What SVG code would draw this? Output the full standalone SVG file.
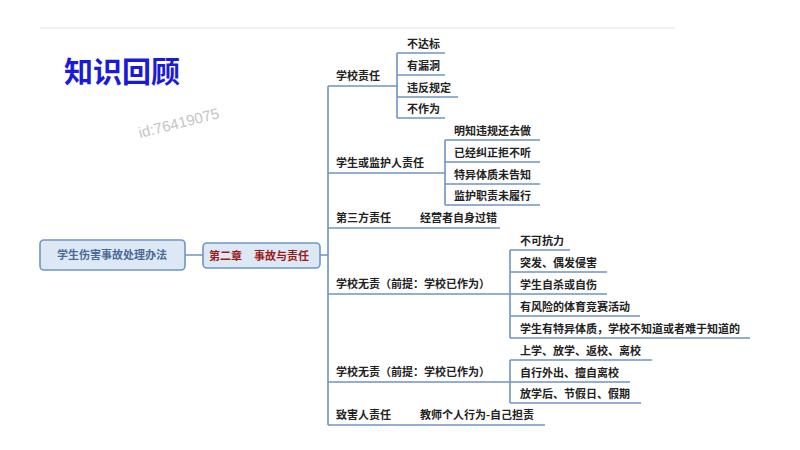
<svg xmlns="http://www.w3.org/2000/svg" width="800" height="450" viewBox="0 0 800 450">
<style>
text{font-family:"Noto Sans CJK SC","Noto Sans",sans-serif;font-size:11px;font-weight:bold;fill:#222}
.l{stroke:#6f95c4;stroke-width:1.6;fill:none}
.box{fill:#dde8f5;stroke:#6f95c4;stroke-width:1.6}
</style>
<rect width="800" height="450" fill="#fff"/>
<line x1="40" y1="28" x2="675" y2="28" stroke="#e4e4e4"/>
<text x="64" y="83" style="font-size:29px;fill:#1a1ad8;font-weight:bold">知识回顾</text>
<text x="140" y="138" transform="rotate(-14 140 138)" style="font-family:'Liberation Sans',sans-serif;font-size:15px;font-weight:normal;fill:#c4c4c4">id:76419075</text>
<g id="connectors">
<path class="l" d="M185 255H203M320 255H328M328 86V425"/>
<path class="l" d="M328 86H397M397 53V118M397 53H445M397 75H445M397 97H458M397 118H445"/>
<path class="l" d="M328 173H445M445 140V205M445 140H540M445 162H540M445 184H540M445 205H540"/>
<path class="l" d="M328 228H500"/>
<path class="l" d="M328 294H510M510 250V338M510 250H570M510 272H607M510 294H607M510 316H640M510 338H750"/>
<path class="l" d="M328 382H510M510 360V403M510 360H652M510 382H630M510 403H641"/>
<path class="l" d="M328 425H545"/>
</g>
<g id="root"><rect class="box" x="40" y="240" width="145" height="30" rx="4"/><text x="112" y="259" text-anchor="middle" style="fill:#4a6a99">学生伤害事故处理办法</text></g>
<g id="center"><rect class="box" x="203" y="243" width="117" height="25" rx="4"/><text x="209" y="260" style="fill:#9a1a1a">第二章</text><text x="254" y="260" style="fill:#9a1a1a">事故与责任</text></g>
<g id="n1"><text x="336" y="80">学校责任</text><text x="407" y="48">不达标</text><text x="407" y="70">有漏洞</text><text x="407" y="92">违反规定</text><text x="407" y="113">不作为</text></g>
<g id="n2"><text x="336" y="167">学生或监护人责任</text><text x="454" y="135">明知违规还去做</text><text x="454" y="157">已经纠正拒不听</text><text x="454" y="179">特异体质未告知</text><text x="454" y="200">监护职责未履行</text></g>
<g id="n3"><text x="336" y="222">第三方责任</text><text x="420" y="222">经营者自身过错</text></g>
<g id="n4"><text x="336" y="288">学校无责（前提：学校已作为）</text><text x="520" y="245">不可抗力</text><text x="520" y="267">突发、偶发侵害</text><text x="520" y="289">学生自杀或自伤</text><text x="520" y="311">有风险的体育竞赛活动</text><text x="520" y="333">学生有特异体质，学校不知道或者难于知道的</text></g>
<g id="n5"><text x="336" y="376">学校无责（前提：学校已作为）</text><text x="520" y="355">上学、放学、返校、离校</text><text x="520" y="377">自行外出、擅自离校</text><text x="520" y="398">放学后、节假日、假期</text></g>
<g id="n6"><text x="336" y="419">致害人责任</text><text x="420" y="419">教师个人行为-自己担责</text></g>
</svg>
